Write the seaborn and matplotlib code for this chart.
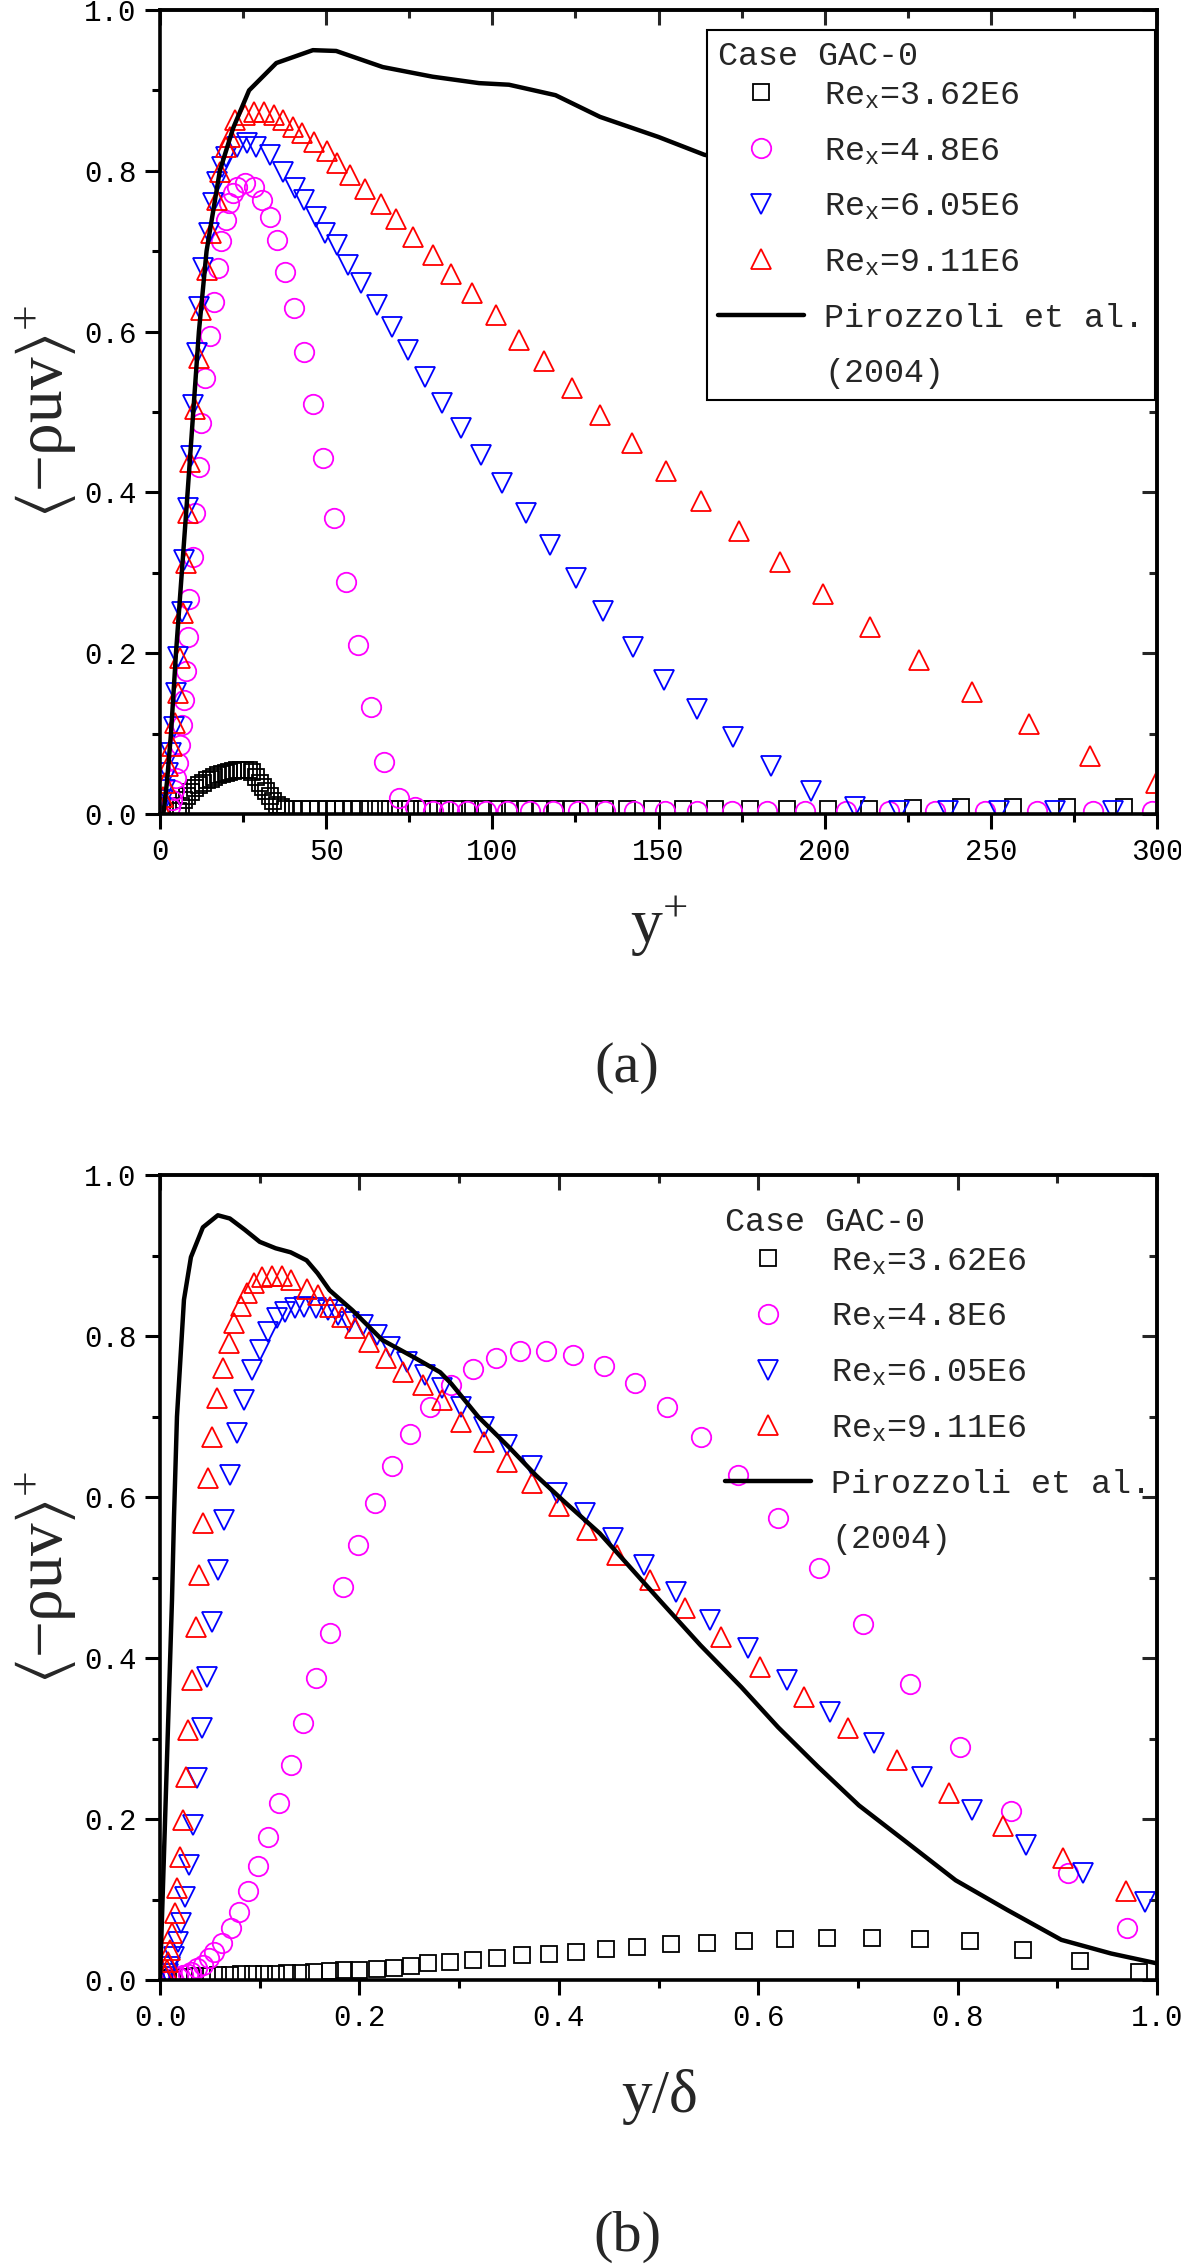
# Perfis de tensão de Reynolds - caso GAC-0 -------------------------------

import numpy as np
import pandas as pd
import seaborn as sns
import matplotlib.pyplot as plt
from matplotlib.lines import Line2D
from matplotlib.ticker import MultipleLocator, FormatStrFormatter

# Dados (a): eixo y+ ------------------------------------------------------

a_sq_x = [5.5, 6.3, 7.1, 8.2, 9.4, 10.5, 11.7, 12.8, 14.0, 15.2, 16.3, 17.5,
          18.6, 19.8, 20.9, 22.1, 23.3, 24.4, 25.6, 26.7, 27.8, 29.0, 30.0,
          31.0, 32.0, 33.0, 34.0, 35.3, 36.5, 37.6, 40.0, 42.7, 45.1, 47.5,
          50.3, 52.7, 55.1, 57.8, 60.2, 63.2, 66.2, 69.2, 72.2, 75.2, 78.8,
          82.1, 85.7, 89.4, 93.3, 97.2, 101.4, 105.3, 109.8, 114.4, 118.9,
          124.0, 128.8, 133.9, 140.5, 148.0, 157.5, 167.0, 177.5, 188.7,
          201.0, 213.2, 226.6, 241.0, 256.8, 273.0, 290.0]
a_sq_y = [0.004, 0.010, 0.017, 0.022, 0.027, 0.032, 0.036, 0.039, 0.042, 0.044,
          0.046, 0.048, 0.050, 0.051, 0.052, 0.053, 0.054, 0.055, 0.055, 0.054,
          0.052, 0.046, 0.039, 0.033, 0.028, 0.022, 0.016, 0.011, 0.008, 0.006,
          0.006, 0.006, 0.006, 0.006, 0.006, 0.006, 0.006, 0.006, 0.006, 0.006,
          0.006, 0.006, 0.006, 0.006, 0.006, 0.006, 0.006, 0.006, 0.006, 0.006,
          0.006, 0.006, 0.006, 0.006, 0.006, 0.006, 0.006, 0.006, 0.006, 0.006,
          0.006, 0.006, 0.006, 0.006, 0.006, 0.006, 0.007, 0.008, 0.009, 0.009,
          0.008]

a_ci_x = [3.0, 3.7, 4.2, 4.8, 5.4, 6.0, 6.5, 7.1, 7.7, 8.3, 8.6, 10.0, 10.6,
          11.7, 12.3, 13.4, 14.9, 16.3, 17.5, 18.4, 19.8, 20.9, 22.0, 23.3,
          25.6, 28.4, 30.7, 33.0, 35.3, 37.6, 40.2, 43.2, 46.0, 49.1, 52.4,
          56.0, 59.5, 63.5, 67.5, 71.9, 76.7, 82.0, 87.1, 92.3, 98.1, 104.4,
          111.3, 118.3, 125.8, 134.0, 142.6, 151.9, 161.6, 172.0, 182.6, 194.0,
          206.3, 219.4, 233.3, 248.3, 264.0, 280.7, 298.5]
a_ci_y = [0.009, 0.017, 0.030, 0.045, 0.063, 0.086, 0.111, 0.142, 0.178, 0.220,
          0.267, 0.320, 0.374, 0.432, 0.486, 0.542, 0.594, 0.637, 0.679, 0.712,
          0.739, 0.760, 0.772, 0.780, 0.785, 0.780, 0.764, 0.743, 0.714, 0.674,
          0.629, 0.575, 0.510, 0.443, 0.368, 0.289, 0.210, 0.133, 0.065, 0.020,
          0.008, 0.004, 0.003, 0.003, 0.003, 0.003, 0.003, 0.003, 0.003, 0.003,
          0.003, 0.003, 0.003, 0.003, 0.003, 0.003, 0.003, 0.003, 0.003, 0.003,
          0.003, 0.003, 0.003]

a_dn_x = [0.2, 0.8, 1.4, 2.5, 3.4, 4.2, 4.8, 5.4, 6.5, 7.1, 8.3, 9.4, 10.0,
          11.1, 11.7, 12.8, 14.6, 15.8, 17.0, 18.6, 19.8, 23.2, 26.1, 29.0,
          33.0, 37.0, 40.5, 43.4, 46.9, 49.7, 53.2, 56.6, 60.6, 65.3, 69.9,
          74.5, 79.6, 84.9, 90.6, 96.7, 103.0, 110.0, 117.3, 125.2, 133.3,
          142.4, 151.7, 161.7, 172.5, 183.9, 195.9, 209.0, 222.4, 237.0, 252.5,
          269.3, 286.8]
a_dn_y = [0.007, 0.017, 0.030, 0.051, 0.076, 0.108, 0.150, 0.195, 0.251, 0.316,
          0.381, 0.445, 0.509, 0.573, 0.631, 0.679, 0.722, 0.760, 0.786, 0.805,
          0.817, 0.830, 0.834, 0.830, 0.820, 0.799, 0.778, 0.764, 0.743, 0.722,
          0.708, 0.683, 0.660, 0.633, 0.606, 0.577, 0.544, 0.511, 0.480, 0.447,
          0.411, 0.374, 0.335, 0.294, 0.252, 0.208, 0.167, 0.131, 0.096, 0.059,
          0.028, 0.009, 0.004, 0.004, 0.004, 0.004, 0.004]

a_up_x = [0.2, 0.8, 1.5, 2.5, 3.7, 4.5, 5.4, 6.0, 6.9, 7.7, 8.3, 8.9, 10.4,
          11.7, 12.3, 14.0, 15.2, 17.0, 18.0, 19.8, 21.0, 22.6, 25.6, 28.4,
          31.3, 34.2, 37.0, 40.0, 42.8, 46.3, 50.3, 53.2, 57.2, 61.8, 66.4,
          71.0, 76.2, 82.0, 87.7, 94.0, 101.0, 107.9, 115.4, 124.0, 132.4,
          142.0, 152.1, 162.8, 174.2, 186.5, 199.5, 213.5, 228.5, 244.4, 261.5,
          279.9, 299.6]
a_up_y = [0.009, 0.021, 0.038, 0.059, 0.084, 0.113, 0.150, 0.194, 0.250, 0.312,
          0.374, 0.438, 0.504, 0.567, 0.627, 0.676, 0.722, 0.764, 0.799, 0.830,
          0.842, 0.863, 0.869, 0.873, 0.873, 0.869, 0.863, 0.855, 0.847, 0.836,
          0.824, 0.810, 0.795, 0.777, 0.759, 0.740, 0.717, 0.695, 0.672, 0.648,
          0.621, 0.590, 0.563, 0.530, 0.496, 0.461, 0.427, 0.389, 0.352, 0.313,
          0.273, 0.232, 0.192, 0.152, 0.112, 0.072, 0.038]

a_ref_x = [1.0, 2.1, 3.3, 4.8, 8.3, 11.7, 14.0, 18.0, 22.0, 26.8, 35.0, 46.0,
           53.0, 67.0, 82.0, 96.0, 105.0, 119.0, 132.4, 150.0, 163.7, 185.0,
           210.0, 240.0, 270.0, 300.0]
a_ref_y = [0.0, 0.04, 0.1, 0.2, 0.4, 0.6, 0.70, 0.8, 0.853, 0.90, 0.934, 0.950,
           0.949, 0.929, 0.917, 0.909, 0.907, 0.894, 0.867, 0.842, 0.820, 0.80,
           0.78, 0.76, 0.74, 0.72]

# Dados (b): eixo y/delta -------------------------------------------------

b_sq_x = [0.005, 0.012, 0.024, 0.035, 0.047, 0.058, 0.070, 0.081, 0.093, 0.104,
          0.116, 0.127, 0.141, 0.154, 0.170, 0.185, 0.200, 0.218, 0.235, 0.252,
          0.269, 0.291, 0.314, 0.338, 0.363, 0.390, 0.417, 0.447, 0.478, 0.513,
          0.549, 0.586, 0.627, 0.669, 0.714, 0.762, 0.812, 0.866, 0.923, 0.982]
b_sq_y = [0.002, 0.003, 0.004, 0.005, 0.005, 0.006, 0.006, 0.007, 0.007, 0.008,
          0.008, 0.009, 0.009, 0.010, 0.011, 0.012, 0.013, 0.014, 0.015, 0.017,
          0.021, 0.023, 0.025, 0.028, 0.031, 0.033, 0.035, 0.039, 0.041, 0.045,
          0.046, 0.049, 0.051, 0.052, 0.052, 0.051, 0.048, 0.038, 0.024, 0.010]

b_ci_x = [0.012, 0.018, 0.023, 0.028, 0.031, 0.037, 0.043, 0.049, 0.054, 0.062,
          0.071, 0.079, 0.088, 0.098, 0.108, 0.119, 0.131, 0.143, 0.156, 0.170,
          0.184, 0.199, 0.216, 0.233, 0.251, 0.271, 0.292, 0.314, 0.337, 0.361,
          0.387, 0.414, 0.445, 0.476, 0.508, 0.543, 0.580, 0.620, 0.661, 0.705,
          0.752, 0.802, 0.854, 0.911, 0.970]
b_ci_y = [0.003, 0.004, 0.006, 0.008, 0.010, 0.015, 0.019, 0.027, 0.035, 0.046,
          0.065, 0.085, 0.111, 0.142, 0.178, 0.220, 0.267, 0.319, 0.375, 0.431,
          0.488, 0.541, 0.593, 0.638, 0.678, 0.712, 0.739, 0.759, 0.773, 0.781,
          0.782, 0.776, 0.763, 0.742, 0.712, 0.675, 0.628, 0.574, 0.512, 0.442,
          0.368, 0.290, 0.210, 0.133, 0.065]

b_dn_x = [0.005, 0.008, 0.010, 0.014, 0.018, 0.021, 0.025, 0.029, 0.033, 0.037,
          0.042, 0.047, 0.052, 0.058, 0.064, 0.070, 0.077, 0.084, 0.092, 0.100,
          0.108, 0.117, 0.125, 0.135, 0.144, 0.156, 0.168, 0.179, 0.190, 0.204,
          0.218, 0.231, 0.248, 0.266, 0.283, 0.302, 0.325, 0.348, 0.373, 0.398,
          0.426, 0.454, 0.485, 0.518, 0.552, 0.590, 0.629, 0.672, 0.716, 0.764,
          0.814, 0.869, 0.926, 0.988]
b_dn_y = [0.004, 0.008, 0.016, 0.029, 0.047, 0.071, 0.103, 0.143, 0.193, 0.251,
          0.313, 0.376, 0.445, 0.509, 0.571, 0.627, 0.680, 0.720, 0.758, 0.783,
          0.805, 0.822, 0.830, 0.835, 0.836, 0.835, 0.832, 0.826, 0.817, 0.814,
          0.801, 0.786, 0.768, 0.752, 0.735, 0.712, 0.687, 0.665, 0.638, 0.605,
          0.580, 0.549, 0.516, 0.482, 0.447, 0.412, 0.373, 0.333, 0.294, 0.252,
          0.211, 0.168, 0.133, 0.097]

b_up_x = [0.0046, 0.0065, 0.008, 0.010, 0.012, 0.015, 0.017, 0.020, 0.023,
          0.026, 0.028, 0.032, 0.036, 0.039, 0.043, 0.048, 0.052, 0.057, 0.063,
          0.069, 0.074, 0.081, 0.087, 0.094, 0.102, 0.112, 0.122, 0.131, 0.147,
          0.158, 0.170, 0.183, 0.196, 0.210, 0.227, 0.244, 0.264, 0.283, 0.302,
          0.325, 0.348, 0.373, 0.400, 0.428, 0.458, 0.491, 0.527, 0.563, 0.602,
          0.646, 0.690, 0.739, 0.791, 0.846, 0.906, 0.969]
b_up_y = [0.006, 0.012, 0.022, 0.037, 0.058, 0.083, 0.114, 0.153, 0.199, 0.252,
          0.311, 0.373, 0.439, 0.503, 0.568, 0.624, 0.675, 0.723, 0.760, 0.791,
          0.816, 0.837, 0.853, 0.866, 0.873, 0.875, 0.874, 0.870, 0.858, 0.851,
          0.836, 0.824, 0.810, 0.793, 0.773, 0.755, 0.739, 0.720, 0.693, 0.668,
          0.643, 0.617, 0.589, 0.559, 0.528, 0.497, 0.462, 0.426, 0.389, 0.352,
          0.313, 0.273, 0.232, 0.191, 0.152, 0.111]

b_ref_x = [0.0, 0.012, 0.014, 0.017, 0.024, 0.031, 0.043, 0.058, 0.070, 0.085,
           0.100, 0.116, 0.131, 0.147, 0.158, 0.170, 0.193, 0.223, 0.254, 0.281,
           0.292, 0.319, 0.350, 0.377, 0.404, 0.441, 0.501, 0.542, 0.583, 0.620,
           0.660, 0.701, 0.746, 0.798, 0.850, 0.904, 0.954, 0.999]
b_ref_y = [0.0, 0.472, 0.575, 0.70, 0.845, 0.898, 0.935, 0.950, 0.946, 0.932,
           0.917, 0.909, 0.904, 0.894, 0.878, 0.857, 0.832, 0.795, 0.774, 0.755,
           0.741, 0.700, 0.662, 0.627, 0.596, 0.555, 0.472, 0.416, 0.364, 0.314,
           0.265, 0.217, 0.174, 0.124, 0.087, 0.050, 0.033, 0.021]

labels = [r"Re$_{\mathregular{x}}$=3.62E6", r"Re$_{\mathregular{x}}$=4.8E6",
          r"Re$_{\mathregular{x}}$=6.05E6", r"Re$_{\mathregular{x}}$=9.11E6",
          "Pirozzoli et al.", "(2004)"]

# Estilo ------------------------------------------------------------------

sns.set_style("white")
plt.rcParams["font.family"] = ["Liberation Mono", "DejaVu Sans Mono"]
plt.rcParams["mathtext.fontset"] = "custom"
plt.rcParams["mathtext.rm"] = "Liberation Serif"
plt.rcParams["mathtext.it"] = "Liberation Serif:italic"
plt.rcParams["mathtext.fallback"] = "stix"

serif = "Liberation Serif"


def marcadores(ax, x, y, marker, cor, ms):
    sns.lineplot(x=x, y=y, ax=ax, marker=marker, linestyle="", color=cor,
                 mfc="none", mec=cor, ms=ms, mew=1.3, sort=False,
                 estimator=None, legend=False)


def painel(ax, sq, ci, dn, up, ref):
    marcadores(ax, sq[0], sq[1], "s", "black", 12)
    marcadores(ax, ci[0], ci[1], "o", "magenta", 14)
    marcadores(ax, dn[0], dn[1], "v", "blue", 15)
    marcadores(ax, up[0], up[1], "^", "red", 15)
    sns.lineplot(x=ref[0], y=ref[1], ax=ax, color="black", lw=3.2, sort=False,
                 estimator=None, legend=False, zorder=5)


def eixos(ax, xmax, xmaj, xmin, xfmt):
    ax.set_xlim(0, xmax)
    ax.set_ylim(0, 1.0)
    ax.xaxis.set_major_locator(MultipleLocator(xmaj))
    ax.xaxis.set_minor_locator(MultipleLocator(xmin))
    ax.xaxis.set_major_formatter(FormatStrFormatter(xfmt))
    ax.yaxis.set_major_locator(MultipleLocator(0.2))
    ax.yaxis.set_minor_locator(MultipleLocator(0.1))
    ax.yaxis.set_major_formatter(FormatStrFormatter("%.1f"))
    for s in ax.spines.values():
        s.set_linewidth(2.6)
        s.set_color("black")
    ax.tick_params(which="both", direction="out", top=False, right=False,
                   bottom=True, left=True, width=2.2, labelsize=21,
                   colors="black")
    ax.tick_params(which="major", length=11, pad=6)
    ax.tick_params(which="minor", length=5.5)

    # ticks para dentro no topo e na direita
    topo = ax.secondary_xaxis("top")
    topo.xaxis.set_major_locator(MultipleLocator(xmaj))
    topo.xaxis.set_minor_locator(MultipleLocator(xmin))
    topo.tick_params(which="both", direction="in", labeltop=False, width=2.2)
    topo.tick_params(which="major", length=11)
    topo.tick_params(which="minor", length=5.5)
    topo.spines["top"].set_linewidth(2.6)

    dir_ = ax.secondary_yaxis("right")
    dir_.yaxis.set_major_locator(MultipleLocator(0.2))
    dir_.yaxis.set_minor_locator(MultipleLocator(0.1))
    dir_.tick_params(which="both", direction="in", labelright=False, width=2.2)
    dir_.tick_params(which="major", length=11)
    dir_.tick_params(which="minor", length=5.5)
    dir_.spines["right"].set_linewidth(2.6)

    ax.set_ylabel(r"$\langle\mathrm{-\rho uv}\rangle^{+}$", fontsize=47,
                  family=serif)
    ax.yaxis.set_label_coords(-0.082, 0.5)


def legenda(ax, anchor, frame):
    hs = [Line2D([], [], ls="", marker="s", ms=12, mfc="none", mec="black", mew=1.3),
          Line2D([], [], ls="", marker="o", ms=14, mfc="none", mec="magenta", mew=1.3),
          Line2D([], [], ls="", marker="v", ms=15, mfc="none", mec="blue", mew=1.3),
          Line2D([], [], ls="", marker="^", ms=15, mfc="none", mec="red", mew=1.3),
          Line2D([], [], color="black", lw=3.2),
          Line2D([], [], ls="", marker="")]
    leg = ax.legend(hs, labels, title="Case GAC-0", loc="upper right",
                    bbox_to_anchor=anchor, fontsize=24, title_fontsize=24,
                    alignment="left", handlelength=2.6, handletextpad=0.6,
                    borderpad=0.32, labelspacing=0.74, borderaxespad=0,
                    frameon=frame, fancybox=False, framealpha=1,
                    edgecolor="black")
    # título mais próximo das entradas
    leg._legend_box.sep = 6
    leg.get_frame().set_linewidth(1.5)
    leg.set_zorder(10)


# Figura ------------------------------------------------------------------

fig = plt.figure(figsize=(11.81, 22.64), dpi=100)
ax_a = fig.add_axes([0.1355, 0.6405, 0.8442, 0.3551])
ax_b = fig.add_axes([0.1355, 0.1254, 0.8442, 0.3556])

painel(ax_a, (a_sq_x, a_sq_y), (a_ci_x, a_ci_y), (a_dn_x, a_dn_y),
       (a_up_x, a_up_y), (a_ref_x, a_ref_y))
eixos(ax_a, 300, 50, 25, "%d")
ax_a.set_xlabel(r"$\mathrm{y}^{+}$", fontsize=46, family=serif)
ax_a.xaxis.set_label_coords(0.5, -0.1)
legenda(ax_a, (0.998, 0.975), True)

painel(ax_b, (b_sq_x, b_sq_y), (b_ci_x, b_ci_y), (b_dn_x, b_dn_y),
       (b_up_x, b_up_y), (b_ref_x, b_ref_y))
eixos(ax_b, 1.0, 0.2, 0.1, "%.1f")
ax_b.set_xlabel(r"$\mathrm{y/\delta}$", fontsize=44, family=serif)
ax_b.xaxis.set_label_coords(0.5, -0.108)
legenda(ax_b, (1.005, 0.974), False)

fig.text(0.531, 1 - 1068 / 2264, "(a)", fontsize=42, family=serif,
         ha="center", va="center")
fig.text(0.531, 1 - 2237 / 2264, "(b)", fontsize=42, family=serif,
         ha="center", va="center")

fig.savefig("out.png", dpi=100, facecolor="white")
